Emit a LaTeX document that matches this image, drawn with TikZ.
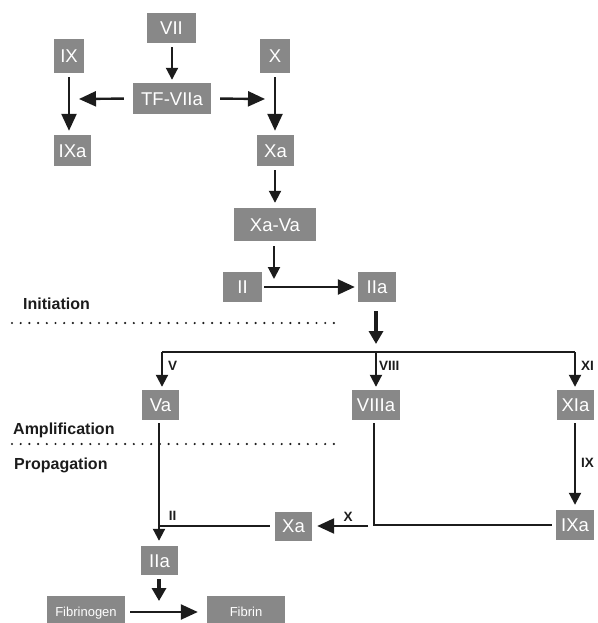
\documentclass[tikz,border=0pt]{standalone}
\usepackage{fontspec}
\setmainfont{Liberation Sans}
\usetikzlibrary{arrows.meta}
\definecolor{boxgray}{RGB}{136,136,136}
\definecolor{ink}{RGB}{28,28,28}
\tikzset{
  fbox/.style={fill=boxgray, draw=none, text=white, inner sep=0pt,
    font=\fontsize{18.5}{18.5}\selectfont, text height=13.2pt, text depth=0pt},
  sbox/.style={fbox, font=\fontsize{13}{13}\selectfont, text height=9.3pt},
  lab/.style={text=ink, inner sep=0pt, font=\bfseries\fontsize{13.5}{13.5}\selectfont},
  phase/.style={text=ink, inner sep=0pt, anchor=west, font=\bfseries\fontsize{16}{16}\selectfont},
  wire/.style={draw=ink, line width=2pt},
  arrL/.style={draw=ink, line width=2.4pt, -{Triangle[length=17pt,width=15pt]}},
  arrM/.style={draw=ink, line width=2pt, -{Triangle[length=12pt,width=12pt]}},
  arrT/.style={draw=ink, line width=3.4pt, -{Triangle[length=13pt,width=14pt]}},
  dotline/.style={draw=ink, line width=2.4pt, line cap=round, dash pattern=on 0pt off 8.7pt}
}
\begin{document}
\begin{tikzpicture}[x=1pt,y=-1pt]
\useasboundingbox (0,0) rectangle (597,623);
\clip (0,0) rectangle (597,623);
% boxes
\node[fbox, minimum width=49pt, minimum height=30pt] (VII) at (171.5,28) {VII};
\node[fbox, minimum width=30pt, minimum height=34pt] (IX) at (69,56) {IX};
\node[fbox, minimum width=30pt, minimum height=34pt] (X) at (275,56) {X};
\node[fbox, minimum width=78pt, minimum height=31pt] (TF) at (172,98.5) {TF-VIIa};
\node[fbox, minimum width=37pt, minimum height=31pt] (IXa) at (72.5,150.5) {IXa};
\node[fbox, minimum width=37pt, minimum height=31pt] (Xa) at (275.5,150.5) {Xa};
\node[fbox, minimum width=82pt, minimum height=33pt] (XaVa) at (275,224.5) {Xa-Va};
\node[fbox, minimum width=39pt, minimum height=30pt] (II) at (242.5,287) {II};
\node[fbox, minimum width=38pt, minimum height=30pt] (IIa) at (377,287) {IIa};
\node[fbox, minimum width=37pt, minimum height=30pt] (Va) at (160.5,405) {Va};
\node[fbox, minimum width=48pt, minimum height=30pt] (VIIIa) at (376,405) {VIIIa};
\node[fbox, minimum width=37pt, minimum height=30pt] (XIa) at (575.5,405) {XIa};
\node[fbox, minimum width=38pt, minimum height=30pt] (IXb) at (575,525) {IXa};
\node[fbox, minimum width=37pt, minimum height=29pt] (Xb) at (293.5,526) {Xa};
\node[fbox, minimum width=37pt, minimum height=29pt] (IIb) at (159.5,560.5) {IIa};
\node[sbox, minimum width=78pt, minimum height=32pt] (Fbg) at (86,612) {Fibrinogen};
\node[sbox, minimum width=78pt, minimum height=32pt] (Fb) at (246,612) {Fibrin};
% phase labels and separators
\node[phase] (init) at (23,304) {Initiation};
\node[phase] (ampl) at (13,430) {Amplification};
\node[phase] (prop) at (14,465) {Propagation};
\coordinate (d1a) at (12,323); \coordinate (d1b) at (339,323);
\coordinate (d2a) at (12,444); \coordinate (d2b) at (339,444);
\draw[dotline] (d1a) -- (d1b);
\draw[dotline] (d2a) -- (d2b);
% initiation
\draw[arrM, shorten <=4pt, shorten >=3pt] (VII.south -| TF.north) -- (TF.north);
\coordinate (tl) at (79,99); \coordinate (tr) at (265,99);
\draw[arrL, shorten <=9pt] (TF.west) -- (tl);
\draw[arrL, shorten <=9pt] (TF.east) -- (tr);
\draw[arrL, shorten <=4pt, shorten >=4pt] (IX.south) -- (IX.south |- IXa.north);
\draw[arrL, shorten <=4pt, shorten >=4pt] (X.south) -- (X.south |- Xa.north);
\draw[arrM, shorten <=4pt, shorten >=5pt] (Xa.south -| XaVa.north) -- (XaVa.north);
\coordinate (vj) at (274,287);
\draw[arrM, shorten <=5pt, shorten >=8pt] (XaVa.south -| vj) -- (vj);
\draw[arrL, shorten <=2pt, shorten >=3pt] (II.east) -- (IIa.west);
% amplification
\coordinate (bl) at (162,352); \coordinate (bm) at (376,352); \coordinate (br) at (575,352);
\draw[arrT, shorten <=9pt, shorten >=8pt] (IIa.south -| bm) -- (bm);
\draw[wire] (bl) -- (br);
\draw[arrM, shorten >=3pt] (bl) -- (bl |- Va.north);
\draw[arrM, shorten >=3pt] (bm) -- (bm |- VIIIa.north);
\draw[arrM, shorten >=3pt] (br) -- (br |- XIa.north);
\node[lab] (lV) at (172.5,366) {V};
\node[lab, anchor=west] (lVIII) at (379,366) {VIII};
\node[lab, anchor=west] (lXI) at (581,366) {XI};
% propagation
\draw[arrM, shorten <=3pt, shorten >=5pt] (XIa.south -| br) -- (br |- IXb.north);
\node[lab, anchor=west] (lIX) at (581,463) {IX};
\coordinate (vk) at (374,525);
\draw[wire, shorten <=3pt, shorten >=4pt] (VIIIa.south -| vk) -- (vk) -- (vk -| IXb.west);
\coordinate (xs) at (368,526);
\draw[arrL, shorten >=5pt] (xs) -- (Xb.east |- xs);
\node[lab] (lX) at (348,517) {X};
\coordinate (vx) at (159,526);
\draw[wire, shorten <=5pt] (Xb.west) -- (Xb.west -| vx);
\draw[arrM, shorten <=3pt, shorten >=5pt] (vx |- Va.south) -- (vx |- IIb.north);
\node[lab] (lII) at (172.5,516) {II};
\coordinate (fj) at (159,612);
\draw[arrT, shorten <=4pt, shorten >=11pt] (IIb.south -| fj) -- (fj);
\draw[arrL, shorten <=5pt, shorten >=9pt] (Fbg.east) -- (Fb.west);
\end{tikzpicture}
\end{document}
